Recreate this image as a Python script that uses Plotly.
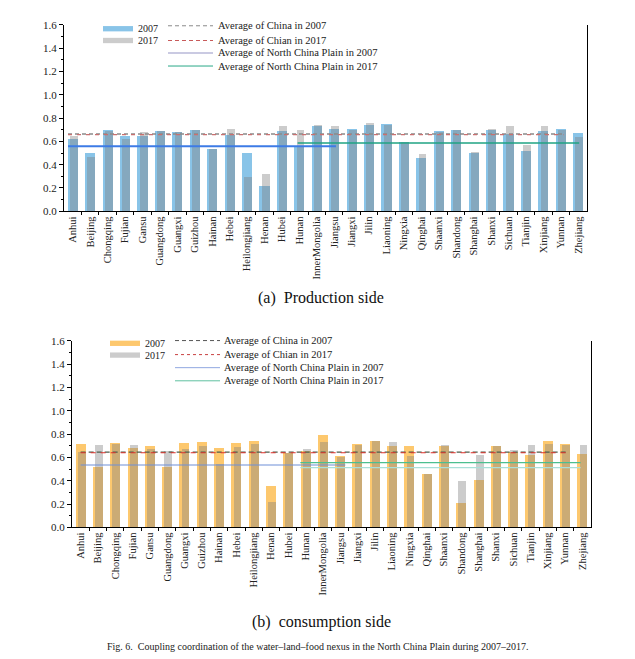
import plotly.graph_objects as go

provinces = ["Anhui", "Beijing", "Chongqing", "Fujian", "Gansu", "Guangdong", "Guangxi",
             "Guizhou", "Hainan", "Hebei", "Heilongjiang", "Henan", "Hubei", "Hunan",
             "InnerMongolia", "Jiangsu", "Jiangxi", "Jilin", "Liaoning", "Ningxia", "Qinghai",
             "Shaanxi", "Shandong", "Shanghai", "Shanxi", "Sichuan", "Tianjin", "Xinjiang",
             "Yunnan", "Zhejiang"]

prod_2007 = [0.62, 0.50, 0.70, 0.65, 0.645, 0.69, 0.68, 0.70, 0.54, 0.66, 0.50, 0.22, 0.69, 0.56,
             0.73, 0.71, 0.71, 0.74, 0.75, 0.60, 0.46, 0.69, 0.695, 0.50, 0.70, 0.665, 0.52, 0.69,
             0.71, 0.67]
prod_2017 = [0.65, 0.47, 0.69, 0.62, 0.68, 0.69, 0.68, 0.695, 0.535, 0.71, 0.30, 0.32, 0.73, 0.70,
             0.74, 0.73, 0.70, 0.76, 0.745, 0.60, 0.49, 0.685, 0.695, 0.51, 0.71, 0.73, 0.57, 0.73,
             0.70, 0.64]

cons_2007 = [0.715, 0.52, 0.725, 0.685, 0.695, 0.515, 0.725, 0.735, 0.685, 0.725, 0.745, 0.36, 0.64,
             0.66, 0.795, 0.61, 0.715, 0.745, 0.70, 0.695, 0.46, 0.70, 0.21, 0.41, 0.70, 0.645,
             0.62, 0.745, 0.715, 0.63]
cons_2017 = [0.645, 0.71, 0.715, 0.71, 0.675, 0.66, 0.67, 0.695, 0.545, 0.69, 0.715, 0.215, 0.635,
             0.67, 0.735, 0.605, 0.705, 0.74, 0.735, 0.615, 0.46, 0.71, 0.395, 0.62, 0.695, 0.665,
             0.705, 0.715, 0.71, 0.705]

# average levels
prod_avgs = {
    "china_2007": 0.663, "china_2017": 0.657, "ncp_2007": 0.558, "ncp_2017": 0.587,
}
cons_avgs = {
    "china_2007": 0.645, "china_2017": 0.640, "ncp_2007": 0.535, "ncp_2017": 0.555,
    "ncp_2017b": 0.513,
}
# spans of the average lines, as (first province, last province)
prod_spans = {"china_2007": ("Anhui", "Yunnan"), "china_2017": ("Anhui", "Yunnan"),
              "ncp_2007": ("Anhui", "Jiangsu"), "ncp_2017": ("Hunan", "Zhejiang")}
cons_spans = {"china_2007": ("Anhui", "Yunnan"), "china_2017": ("Anhui", "Yunnan"),
              "ncp_2007": ("Anhui", "Jiangsu"), "ncp_2017": ("Hunan", "Zhejiang"),
              "ncp_2017b": ("Hunan", "Zhejiang")}

legend_bar_labels = ["2007", "2017"]
legend_line_labels = ["Average of China in 2007", "Average of Chian in 2017",
                      "Average of North China Plain in 2007", "Average of North China Plain in 2017"]

# page body has an 8px default margin; the figure fills the rest of the window
OFF = 8
W, H = 635 - OFF, 659 - OFF
FONT = "Liberation Serif"
idx = {p: i for i, p in enumerate(provinces)}
xs = list(range(len(provinces)))

fig = go.Figure()

def px_x(p):
    return (p - OFF) / W

def px_y(p):
    return 1 - (p - OFF) / H

def add_panel(suffix, v07, v17, avgs, spans, color07, styles, pads):
    xa = "x" + suffix
    ya = "y" + suffix
    fig.add_trace(go.Bar(x=xs, y=v07, width=0.58, offset=-0.29,
                         marker=dict(color=color07, line=dict(width=0)),
                         xaxis=xa, yaxis=ya, showlegend=False))
    fig.add_trace(go.Bar(x=xs, y=v17, width=0.45, offset=-0.16,
                         marker=dict(color="rgba(128,128,128,0.4)", line=dict(width=0)),
                         xaxis=xa, yaxis=ya, showlegend=False))
    for key, val in avgs.items():
        a, b = spans[key]
        pa, pb = pads[key]
        st = styles[key]
        fig.add_trace(go.Scatter(x=[idx[a] + pa, idx[b] + pb], y=[val, val], mode="lines",
                                 line=dict(color=st[0], width=st[1], dash=st[2]),
                                 xaxis=xa, yaxis=ya, showlegend=False, hoverinfo="skip"))

prod_styles = {"china_2007": ("#8a8a8a", 1.3, "4px,3px"),
               "china_2017": ("#c87070", 1.3, "4px,5px"),
               "ncp_2007": ("#3d7be6", 1.8, "solid"),
               "ncp_2017": ("#1fa383", 1.5, "solid")}
prod_pads = {"china_2007": (-0.27, 0.15), "china_2017": (-0.27, 0.15),
             "ncp_2007": (-0.27, 0.1), "ncp_2017": (-0.1, 0.05)}
cons_styles = {"china_2007": ("#4d5d4d", 1.2, "5px,3px"),
               "china_2017": ("#e0302a", 1.2, "5px,5px"),
               "ncp_2007": ("#6f8fd8", 1.2, "solid"),
               "ncp_2017": ("#4cbf8f", 1.4, "solid"),
               "ncp_2017b": ("#a8e0d8", 1.2, "solid")}
cons_pads = {"china_2007": (0.0, 0.2), "china_2017": (0.0, 0.2),
             "ncp_2007": (0.0, 0.3), "ncp_2017": (-0.3, -0.1), "ncp_2017b": (-0.3, -0.1)}

add_panel("", prod_2007, prod_2017, prod_avgs, prod_spans, "#89c4e8", prod_styles, prod_pads)
add_panel("2", cons_2007, cons_2017, cons_avgs, cons_spans, "#fdc86e", cons_styles, cons_pads)

def xaxis_cfg(domain, anchor):
    return dict(domain=domain, anchor=anchor, range=[-0.5, len(provinces) - 0.5],
                tickvals=xs, ticktext=provinces, tickangle=-90, ticks="", showgrid=False,
                zeroline=False, showline=True, linecolor="black", linewidth=1,
                tickfont=dict(family=FONT, size=10.5, color="#222"),
                minor=dict(tickvals=[i + 0.5 for i in xs[:-1]], ticks="outside", ticklen=3,
                           tickcolor="black", showgrid=False))

def yaxis_cfg(domain, anchor):
    return dict(domain=domain, anchor=anchor, range=[0, 1.6], tickvals=[i / 5 for i in range(9)],
                tickformat=".1f", ticks="outside", ticklen=4, tickcolor="black", showgrid=False,
                zeroline=False, showline=True, linecolor="black", linewidth=1, mirror=True,
                tickfont=dict(family=FONT, size=11, color="#222"),
                minor=dict(dtick=0.1, ticks="outside", ticklen=2, tickcolor="black", showgrid=False))

shapes = []
annotations = []

def add_legend(bar_color, bx0, bx1, by, tx, lx0, lx1, ly, ltx, line_styles):
    cols = [bar_color, "rgba(128,128,128,0.4)"]
    for lab, c, yy in zip(legend_bar_labels, cols, by):
        shapes.append(dict(type="rect", xref="paper", yref="paper", x0=px_x(bx0), x1=px_x(bx1),
                           y0=px_y(yy + 2.7), y1=px_y(yy - 2.7), fillcolor=c, line=dict(width=0)))
        annotations.append(dict(x=px_x(tx), y=px_y(yy), xref="paper", yref="paper", text=lab,
                                showarrow=False, xanchor="left", yanchor="middle",
                                font=dict(family=FONT, size=10, color="#222")))
    for lab, st, yy in zip(legend_line_labels, line_styles, ly):
        shapes.append(dict(type="line", xref="paper", yref="paper", x0=px_x(lx0), x1=px_x(lx1),
                           y0=px_y(yy), y1=px_y(yy), line=dict(color=st[0], width=st[1], dash=st[2])))
        annotations.append(dict(x=px_x(ltx), y=px_y(yy), xref="paper", yref="paper", text=lab,
                                showarrow=False, xanchor="left", yanchor="middle",
                                font=dict(family=FONT, size=10.5, color="#222")))

add_legend("#89c4e8", 103, 133, [23, 35], 136, 168, 213, [20, 35, 47.7, 61], 216,
           [("#8a8a8a", 1, "4px,3px"), ("#c85a5a", 1, "4px,3px"),
            ("#b8b8d8", 1.5, "solid"), ("#2aa888", 1, "solid")])
add_legend("#fdc86e", 110, 140, [343.5, 355.5], 143, 175, 220, [340.7, 355, 368.3, 381.7], 222,
           [("#555555", 1, "4px,3px"), ("#c84040", 1, "3px,3px"),
            ("#90a8e0", 1, "solid"), ("#60c0a0", 1, "solid")])

annotations.append(dict(x=px_x(321), y=px_y(297), xref="paper", yref="paper",
                        text="(a)  Production side", showarrow=False, xanchor="center",
                        yanchor="middle", font=dict(family=FONT, size=16, color="#111")))
annotations.append(dict(x=px_x(321), y=px_y(627), xref="paper", yref="paper",
                        text="(b)  consumption side", showarrow=False, xanchor="center",
                        yanchor="middle", font=dict(family=FONT, size=16, color="#111")))
annotations.append(dict(x=px_x(318), y=px_y(652), xref="paper", yref="paper",
                        text="Fig. 6.  Coupling coordination of the water–land–food nexus in the North China Plain during 2007–2017.",
                        showarrow=False, xanchor="center", yanchor="middle",
                        font=dict(family=FONT, size=10, color="#222")))

fig.update_layout(
    width=W, height=H, margin=dict(l=0, r=0, t=0, b=0),
    paper_bgcolor="white", plot_bgcolor="white", barmode="overlay", bargap=0,
    xaxis=xaxis_cfg([px_x(64), px_x(587)], "y"),
    yaxis=yaxis_cfg([px_y(209), px_y(19)], "x"),
    xaxis2=xaxis_cfg([px_x(72), px_x(591)], "y2"),
    yaxis2=yaxis_cfg([px_y(531), px_y(341)], "x2"),
    shapes=shapes, annotations=annotations, showlegend=False,
)

fig.write_html("out.html")
